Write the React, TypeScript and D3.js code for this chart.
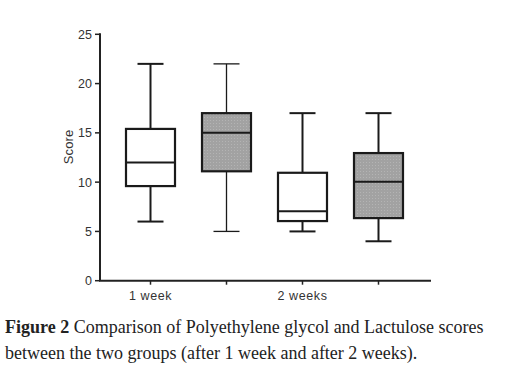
import { scaleLinear, scaleBand } from "d3";

const groups = ["1 week A", "1 week B", "2 weeks A", "2 weeks B"];
const tickNames = ["1 week", "", "2 weeks", ""];
const mins = [6, 5, 5, 4];
const q1s = [9.6, 11.1, 6.05, 6.35];
const medians = [12, 15, 7.05, 10.05];
const q3s = [15.4, 17, 10.95, 12.95];
const maxs = [22, 22, 17, 17];
const shaded = [false, true, false, true];
const yTicks = [0, 5, 10, 15, 20, 25];

const width = 516;
const height = 385;
const left = 100;
const right = 431;
const top = 34.3;
const bottom = 280.7;

export default function App() {
    const y = scaleLinear().domain([0, 25]).range([bottom, top]);
    const x = scaleBand().domain(groups).range([112.5, 416.5]);
    const boxW = 49;
    const capW = 26;
    const axisFont = "'Liberation Sans', Arial, sans-serif";

    return (
        <svg
            width={width}
            height={height}
            viewBox={`0 0 ${width} ${height}`}
            style={{ position: "absolute", left: 0, top: 0, background: "#fff" }}
        >
            <defs>
                <pattern id="dots" width="3" height="3" patternUnits="userSpaceOnUse">
                    <rect width="3" height="3" fill="#a2a2a2" />
                    <rect width="1" height="1" fill="#b4b4b4" />
                </pattern>
            </defs>

            {/* y axis */}
            <line x1={left} x2={left} y1={top - 1} y2={bottom} stroke="#222" strokeWidth={2} />
            {yTicks.map(t => (
                <g key={t}>
                    <line x1={left - 5} x2={left} y1={y(t)} y2={y(t)} stroke="#222" strokeWidth={1.5} />
                    <text
                        x={left - 8}
                        y={y(t)}
                        dy="0.36em"
                        textAnchor="end"
                        style={{ fontFamily: axisFont, fontSize: "12.5px", fill: "#333" }}
                    >
                        {t}
                    </text>
                </g>
            ))}
            <text
                transform={`translate(73, 147) rotate(-90)`}
                textAnchor="middle"
                style={{ fontFamily: axisFont, fontSize: "13px", letterSpacing: "0.1px", fill: "#333" }}
            >
                Score
            </text>

            {/* x axis */}
            <line x1={left - 1} x2={right} y1={bottom} y2={bottom} stroke="#222" strokeWidth={2} />
            {groups.map((g, i) => {
                const cx = (x(g) || 0) + x.bandwidth() / 2;
                return (
                    <g key={g}>
                        <line x1={cx} x2={cx} y1={bottom} y2={bottom + 4} stroke="#222" strokeWidth={1.5} />
                        {tickNames[i] ? (
                            <text
                                x={cx}
                                y={bottom + 19}
                                textAnchor="middle"
                                style={{ fontFamily: axisFont, fontSize: "12.5px", letterSpacing: "0.6px", fill: "#333" }}
                            >
                                {tickNames[i]}
                            </text>
                        ) : null}
                    </g>
                );
            })}

            {/* boxes */}
            {groups.map((g, i) => {
                const cx = (x(g) || 0) + x.bandwidth() / 2;
                const whiskerW = i === 1 ? 1.3 : 2;
                return (
                    <g key={g}>
                        <line x1={cx} x2={cx} y1={y(maxs[i])} y2={y(q3s[i])} stroke="#1a1a1a" strokeWidth={whiskerW} />
                        <line x1={cx} x2={cx} y1={y(q1s[i])} y2={y(mins[i])} stroke="#1a1a1a" strokeWidth={whiskerW} />
                        <line x1={cx - capW / 2} x2={cx + capW / 2} y1={y(maxs[i])} y2={y(maxs[i])} stroke="#1a1a1a" strokeWidth={whiskerW} />
                        <line x1={cx - capW / 2} x2={cx + capW / 2} y1={y(mins[i])} y2={y(mins[i])} stroke="#1a1a1a" strokeWidth={whiskerW} />
                        <rect
                            x={cx - boxW / 2}
                            y={y(q3s[i])}
                            width={boxW}
                            height={y(q1s[i]) - y(q3s[i])}
                            fill={shaded[i] ? "url(#dots)" : "#fff"}
                            stroke="#1a1a1a"
                            strokeWidth={2.2}
                        />
                        <line x1={cx - boxW / 2} x2={cx + boxW / 2} y1={y(medians[i])} y2={y(medians[i])} stroke="#1a1a1a" strokeWidth={2} />
                    </g>
                );
            })}

            {/* caption */}
            <g style={{ fontFamily: "'Liberation Serif', 'DejaVu Serif', serif", fontSize: "18px", fill: "#222" }}>
                <text x={5} y={333}>
                    <tspan fontWeight="bold">Figure 2</tspan> Comparison of Polyethylene glycol and Lactulose scores
                </text>
                <text x={5} y={359}>between the two groups (after 1 week and after 2 weeks).</text>
            </g>
        </svg>
    );
}
